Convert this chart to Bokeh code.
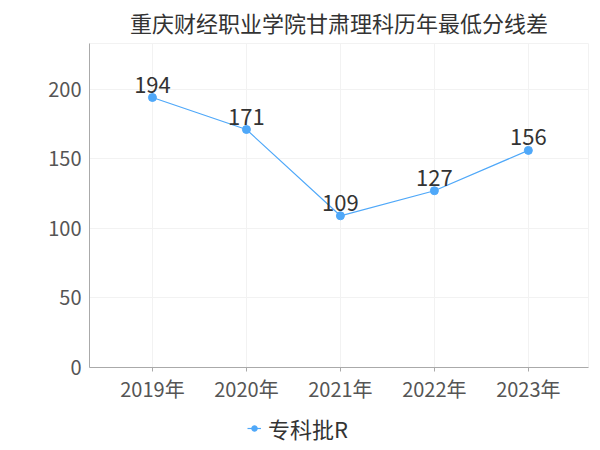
from bokeh.plotting import figure
from bokeh.layouts import column
from bokeh.models import Range1d, FixedTicker, ColumnDataSource, Legend, LegendItem, LabelSet
from bokeh.core.properties import value
from bokeh.embed import file_html
from bokeh.resources import INLINE

title = "重庆财经职业学院甘肃理科历年最低分线差"
years = ["2019年", "2020年", "2021年", "2022年", "2023年"]
values = [194, 171, 109, 127, 156]
series_name = "专科批R"
y_ticks = [0, 50, 100, 150, 200]

FONT = "Noto Sans CJK SC"
BLUE = "#4fa8f9"

xs = list(range(len(years)))
src = ColumnDataSource(dict(x=xs, y=values, lbl=[str(v) for v in values]))

p = figure(width=600, height=405, output_backend="svg", toolbar_location=None,
           x_range=Range1d(-0.67, 4.64), y_range=Range1d(0, 232.8),
           min_border_left=89, min_border_right=12, min_border_top=43, min_border_bottom=37)

p.title.text = title
p.title.text_font = FONT
p.title.text_font_size = "22px"
p.title.text_font_style = "normal"
p.title.text_color = "#333333"
p.title.align = "center"
p.title.vertical_align = "top"
p.title.standoff = 8

p.outline_line_color = "#f2f2f2"
p.background_fill_color = "white"
p.border_fill_color = "white"

p.xaxis.ticker = FixedTicker(ticks=xs)
p.xaxis.major_label_overrides = {i: y for i, y in enumerate(years)}
p.yaxis.ticker = FixedTicker(ticks=y_ticks)

for ax in (p.xaxis, p.yaxis):
    ax.axis_line_color = "#aaaaaa"
    ax.major_label_text_font = FONT
    ax.major_label_text_font_size = "20px"
    ax.major_label_text_color = "#555555"
    ax.minor_tick_line_color = None

p.xaxis.major_tick_line_color = "#aaaaaa"
p.xaxis.major_tick_in = 0
p.xaxis.major_tick_out = 4
p.xaxis.major_label_standoff = 2
p.yaxis.major_tick_line_color = None
p.yaxis.major_tick_in = 0
p.yaxis.major_tick_out = 0
p.yaxis.major_label_standoff = 8

p.xgrid.ticker = FixedTicker(ticks=xs)
p.xgrid.grid_line_color = "#f2f2f2"
p.ygrid.grid_line_color = "#f2f2f2"

p.line("x", "y", source=src, line_color=BLUE, line_width=1.2)
p.scatter("x", "y", source=src, size=8, fill_color=BLUE, line_color=BLUE)

labels = LabelSet(x="x", y="y", text="lbl", source=src, text_align="center",
                  text_baseline="alphabetic", y_offset=5, text_font=value(FONT),
                  text_font_size=value("22px"), text_color="#333333")
p.add_layout(labels)

# legend strip below the chart (its series glyphs lie outside this strip's ranges)
lg = figure(width=600, height=45, output_backend="svg", toolbar_location=None,
            x_range=Range1d(100, 101), y_range=Range1d(1000, 1001),
            x_axis_location=None, y_axis_location=None,
            min_border=0, outline_line_color=None)
lg.grid.visible = False
lr = lg.line("x", "y", source=src, line_color=BLUE, line_width=1.2)
lp = lg.scatter("x", "y", source=src, size=8, fill_color=BLUE, line_color=BLUE)
legend = Legend(items=[LegendItem(label=series_name, renderers=[lr, lp])],
                location=(158, 6), orientation="horizontal",
                label_text_font=FONT, label_text_font_size="22px",
                label_text_color="#333333", glyph_width=14, glyph_height=24,
                padding=0, margin=0, border_line_color=None,
                background_fill_alpha=0, label_standoff=7)
lg.add_layout(legend)

page = column(p, lg, spacing=0)
open("out.html", "w").write(file_html(page, INLINE))
